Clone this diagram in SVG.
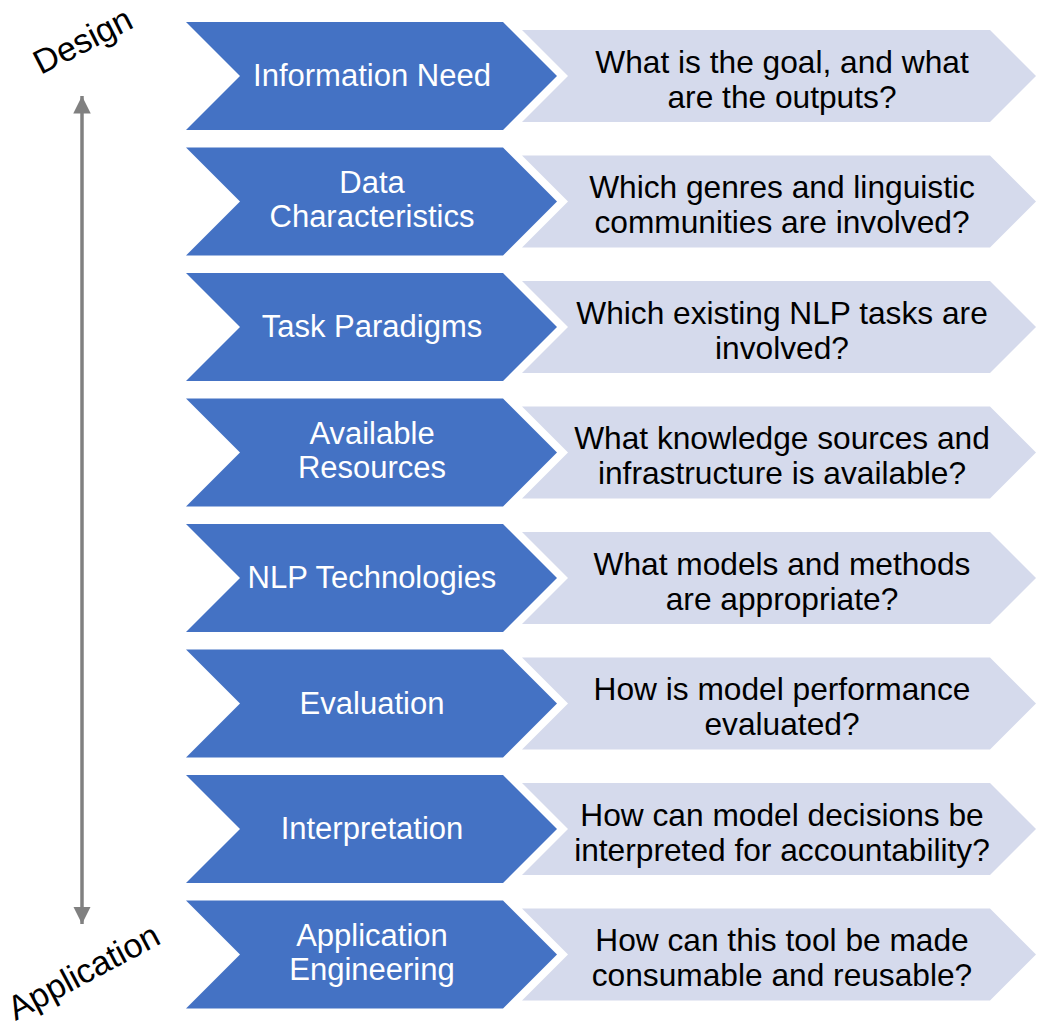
<svg xmlns="http://www.w3.org/2000/svg" width="1050" height="1033" viewBox="0 0 1050 1033">
<style>
.b{fill:#4472C4}
.l{fill:#D5DAEC}
.tw{font-family:"Liberation Sans",Arial,sans-serif;font-size:31px;fill:#FFFFFF;text-anchor:middle}
.tk{font-family:"Liberation Sans",Arial,sans-serif;font-size:31.7px;fill:#000000;text-anchor:middle}
.side{font-family:"Liberation Sans",Arial,sans-serif;font-size:34px;fill:#000000;text-anchor:middle}
</style>
<defs>
<polygon id="blue" points="186,-54 503,-54 557,0 503,54 186,54 240,0"/>
<polygon id="light" points="522,-46 990,-46 1036,0 990,46 522,46 568,0"/>
<marker id="ah" viewBox="0 0 10 10" refX="10" refY="5" markerWidth="5" markerHeight="5.5" orient="auto-start-reverse" markerUnits="strokeWidth">
<path d="M0,0 L10,5 L0,10 z" fill="#808080"/>
</marker>
</defs>
<g id="connectors">
<line x1="82" y1="96" x2="82" y2="924" stroke="#808080" stroke-width="3.5" marker-start="url(#ah)" marker-end="url(#ah)"/>
</g>
<text class="side" transform="translate(88,51) rotate(-27)">Design</text>
<text class="side" transform="translate(89,982) rotate(-28)">Application</text>
<g id="row1" transform="translate(0,76)">
<use href="#light" class="l"/><use href="#blue" class="b"/>
<text class="tw" x="372" y="10">Information Need</text>
<text class="tk" x="782" y="-3.5">What is the goal, and what</text>
<text class="tk" x="782" y="31.5">are the outputs?</text>
</g>
<g id="row2" transform="translate(0,201.5)">
<use href="#light" class="l"/><use href="#blue" class="b"/>
<text class="tw" x="372" y="-8.5">Data</text>
<text class="tw" x="372" y="25.8">Characteristics</text>
<text class="tk" x="782" y="-3.5">Which genres and linguistic</text>
<text class="tk" x="782" y="31.5">communities are involved?</text>
</g>
<g id="row3" transform="translate(0,327)">
<use href="#light" class="l"/><use href="#blue" class="b"/>
<text class="tw" x="372" y="10">Task Paradigms</text>
<text class="tk" x="782" y="-3.5">Which existing NLP tasks are</text>
<text class="tk" x="782" y="31.5">involved?</text>
</g>
<g id="row4" transform="translate(0,452.5)">
<use href="#light" class="l"/><use href="#blue" class="b"/>
<text class="tw" x="372" y="-8.5">Available</text>
<text class="tw" x="372" y="25.8">Resources</text>
<text class="tk" x="782" y="-3.5">What knowledge sources and</text>
<text class="tk" x="782" y="31.5">infrastructure is available?</text>
</g>
<g id="row5" transform="translate(0,578)">
<use href="#light" class="l"/><use href="#blue" class="b"/>
<text class="tw" x="372" y="10">NLP Technologies</text>
<text class="tk" x="782" y="-3.5">What models and methods</text>
<text class="tk" x="782" y="31.5">are appropriate?</text>
</g>
<g id="row6" transform="translate(0,703.5)">
<use href="#light" class="l"/><use href="#blue" class="b"/>
<text class="tw" x="372" y="10">Evaluation</text>
<text class="tk" x="782" y="-3.5">How is model performance</text>
<text class="tk" x="782" y="31.5">evaluated?</text>
</g>
<g id="row7" transform="translate(0,829)">
<use href="#light" class="l"/><use href="#blue" class="b"/>
<text class="tw" x="372" y="10">Interpretation</text>
<text class="tk" x="782" y="-3.5">How can model decisions be</text>
<text class="tk" x="782" y="31.5">interpreted for accountability?</text>
</g>
<g id="row8" transform="translate(0,954.5)">
<use href="#light" class="l"/><use href="#blue" class="b"/>
<text class="tw" x="372" y="-8.5">Application</text>
<text class="tw" x="372" y="25.8">Engineering</text>
<text class="tk" x="782" y="-3.5">How can this tool be made</text>
<text class="tk" x="782" y="31.5">consumable and reusable?</text>
</g>
</svg>
